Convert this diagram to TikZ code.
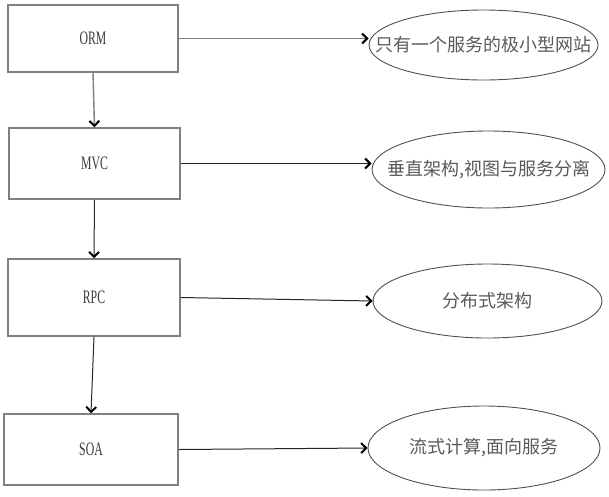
\documentclass[tikz,border=0pt]{standalone}
\usepackage{fontspec}
\setmainfont{Liberation Serif}
\newfontfamily\cjk{Noto Sans CJK SC}
\newfontfamily\narrowserif[FakeStretch=0.62]{Liberation Serif}
\usepackage{tikz}
\usetikzlibrary{arrows.meta}
\usetikzlibrary{shapes.geometric}
\usetikzlibrary{positioning}

\definecolor{boxgray}{HTML}{808080}
\definecolor{txtgray}{HTML}{5A5A5A}
\definecolor{ellgray}{HTML}{505050}
\definecolor{lbldark}{HTML}{3A3A3A}

\tikzset{
	stage/.style={draw=boxgray, line width=1.5pt, inner sep=0pt, text=lbldark,
		font=\narrowserif\fontsize{19}{19}\selectfont},
	idea/.style={ellipse, draw=ellgray, line width=0.9pt, inner sep=0pt,
		label={[text=txtgray, font=\cjk\fontsize{18}{18}\selectfont]center:#1}},
	link/.style={draw=black!85, line width=1pt,
		-{Straight Barb[length=5pt,width=10pt,line width=2pt,black]}}
}

\begin{document}
\begin{tikzpicture}[x=1pt,y=-1pt]
	\useasboundingbox (0,0) rectangle (609,496);

	% stages, top to bottom
	\node[stage, minimum width=170pt, minimum height=67pt] (orm) at (93,38.5){ORM};
	\node[stage, minimum width=171pt, minimum height=71pt] (mvc) at (94.5,163.5){MVC};
	\node[stage, minimum width=172pt, minimum height=77pt] (rpc) at (94,297.5){RPC};
	\node[stage, minimum width=174pt, minimum height=71pt] (soa) at (91,449.5){SOA};

	\node[idea={只有一个服务的极小型网站}, minimum width=229pt, minimum height=70pt] (orm-e) at (483.5,45){};
	\node[idea={{垂直架构,视图与服务分离}}, minimum width=233pt, minimum height=77pt] (mvc-e) at (488.5,169.5){};
	\node[idea={分布式架构}, minimum width=229pt, minimum height=74pt] (rpc-e) at (487.5,301){};
	\node[idea={{流式计算,面向服务}}, minimum width=232pt, minimum height=84pt] (soa-e) at (484,448){};

	\draw[link, draw=boxgray, line width=1.4pt] (orm.south) -- (mvc.north);
	\draw[link] (mvc.south) -- (rpc.north);
	\draw[link] (rpc.south) -- (soa.north);

	\draw[link, draw=boxgray, line width=1.4pt] (orm.east) -- (orm.east -| orm-e.west);
	\draw[link] (mvc.east) -- (mvc.east -| mvc-e.west);
	\draw[link] (rpc.east) -- (rpc-e.west);
	\draw[link] (soa.east) -- (soa-e.west);
\end{tikzpicture}
\end{document}
